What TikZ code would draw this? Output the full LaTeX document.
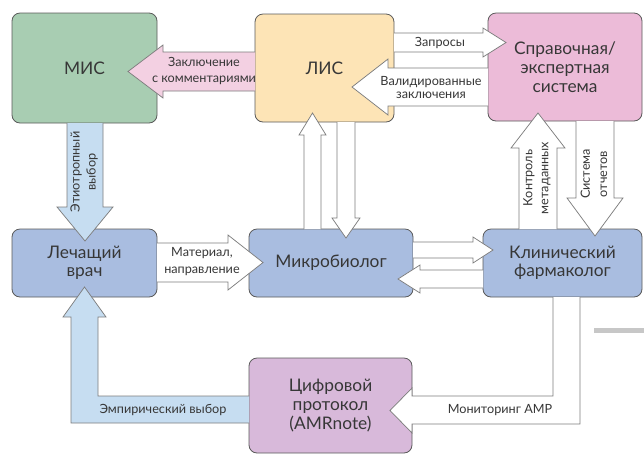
\documentclass[tikz,border=0pt]{standalone}
\usepackage{fontspec}
\setmainfont{Lato}

\definecolor{misgreen}{RGB}{168,205,178}
\definecolor{lisorange}{RGB}{253,228,182}
\definecolor{sprpink}{RGB}{236,187,216}
\definecolor{docblue}{RGB}{169,189,224}
\definecolor{amrlilac}{RGB}{216,185,218}
\definecolor{arrpink}{RGB}{243,208,226}
\definecolor{arrblue}{RGB}{198,221,241}
\definecolor{edgegray}{RGB}{90,90,90}
\definecolor{arrowgray}{RGB}{125,125,125}
\definecolor{txtgray}{RGB}{55,55,55}

\tikzset{every picture/.style={line width=0.75pt}}
\tikzset{
  box/.style={draw=edgegray, line width=0.6pt, rounded corners=6pt, align=center,
    inner sep=0pt, text=txtgray, font=\fontsize{13}{13.5}\selectfont},
  fatarrow/.style={draw=arrowgray, line width=0.55pt, fill=white, line join=miter},
  lbl/.style={inner sep=0.75pt, align=center, text=txtgray, font=\fontsize{9.5}{12}\selectfont}
}

\begin{document}
\begin{tikzpicture}[x=0.75pt,y=0.75pt,yscale=-1,xscale=1]
\useasboundingbox (0,0) rectangle (644,455);

%Boxes
\node [box, fill=misgreen, minimum width=108.75pt, minimum height=82.5pt] (mis) at (84.5,68) {МИС};
\node [box, fill=lisorange, minimum width=104.25pt, minimum height=81pt] (lis) at (324.5,68) {ЛИС};
\node [box, fill=sprpink, minimum width=115.5pt, minimum height=81pt, font=\fontsize{13}{14.25}\selectfont] (spr) at (565,67) {Справочная/\\экспертная\\система};
\node [box, fill=docblue, minimum width=108.75pt, minimum height=51pt] (vrach) at (84.5,263) {Лечащий\\врач};
\node [box, fill=docblue, minimum width=123pt, minimum height=51pt] (micro) at (331,263) {Микробиолог};
\node [box, fill=docblue, minimum width=119.25pt, minimum height=51pt] (farm) at (562.5,263) {Клинический\\фармаколог};
\node [box, fill=amrlilac, minimum width=122.25pt, minimum height=71.25pt, font=\fontsize{13}{14}\selectfont] (amr) at (330.5,405.5) {Цифровой\\протокол\\(AMRnote)};

%Left Arrow: ЛИС -> МИС
\draw [fatarrow, fill=arrpink] (255,52) -- (163,52) -- (163,45) -- (128,71.5) -- (163,98) -- (163,91) -- (255,91) ;
%Down Arrow: МИС -> врач
\draw [fatarrow, fill=arrblue] (67,123) -- (67,207) -- (57,207) -- (85,241) -- (113,207) -- (103,207) -- (103,123) ;
%Right Arrow: врач -> микробиолог
\draw [fatarrow] (157,243) -- (228,243) -- (228,235) -- (263,262.5) -- (228,290) -- (228,282) -- (157,282) ;
%Up Arrow: микробиолог -> ЛИС
\draw [fatarrow] (304,229) -- (304,135) -- (299,135) -- (312.5,113) -- (326,135) -- (321,135) -- (321,229) ;
%Down Arrow: ЛИС -> микробиолог
\draw [fatarrow] (337,122) -- (337,218) -- (332,218) -- (346,238) -- (360,218) -- (355,218) -- (355,122) ;
%Right Arrow: ЛИС -> справочная
\draw [fatarrow] (394,33) -- (483,33) -- (483,28) -- (506,42.5) -- (483,57) -- (483,52) -- (394,52) ;
%Left Arrow: справочная -> ЛИС
\draw [fatarrow] (488,68) -- (388,68) -- (388,59) -- (352,87) -- (388,115) -- (388,106) -- (488,106) ;
%Up Arrow: фармаколог -> справочная
\draw [fatarrow] (519,229) -- (519,148) -- (511,148) -- (538,113) -- (565,148) -- (557,148) -- (557,229) ;
%Down Arrow: справочная -> фармаколог
\draw [fatarrow] (576,121) -- (576,198) -- (567,198) -- (595,236) -- (623,198) -- (614,198) -- (614,121) ;
%Right Arrow: микробиолог -> фармаколог
\draw [fatarrow] (413,242) -- (473,242) -- (473,237) -- (493,250) -- (473,263) -- (473,258) -- (413,258) ;
%Left Arrow: фармаколог -> микробиолог
\draw [fatarrow] (483,270) -- (420,270) -- (420,265) -- (398,279) -- (420,293) -- (420,288) -- (483,288) ;
%Bent Arrow: фармаколог -> протокол
\draw [fatarrow] (553,297) -- (553,396) -- (412,396) -- (412,388) -- (390,410.5) -- (412,433) -- (412,424) -- (580,424) -- (580,297) ;
%Bent Arrow: протокол -> врач
\draw [fatarrow, fill=arrblue] (249,396) -- (98,396) -- (98,317) -- (106,317) -- (84.5,287) -- (63,317) -- (71,317) -- (71,423) -- (249,423) ;

%Straight Lines
\fill [black!22] (594,328) rectangle (644,333) ;

% Text Node
\draw (204,71) node [lbl, font=\fontsize{9.5}{12}\selectfont] (tzakl) {Заключение\\с комментариями};
% Text Node
\draw (440,43) node [lbl] (tzapr) {Запросы};
% Text Node
\draw (431,87.5) node [lbl, font=\fontsize{9.5}{10}\selectfont] (tvalid) {Валидированные\\заключения};
% Text Node
\draw (84,172) node [lbl, rotate=90] (tetio) {Этиотропный\\выбор};
% Text Node
\draw (202,262) node [lbl, font=\fontsize{9.5}{12.75}\selectfont] (tmat) {Материал,\\направление};
% Text Node
\draw (537,178) node [lbl, rotate=90] (tkontr) {Контроль\\метаданных};
% Text Node
\draw (594,174) node [lbl, rotate=90, font=\fontsize{9.5}{13}\selectfont] (tsist) {Система\\отчетов};
% Text Node
\draw (163,410) node [lbl] (tempir) {Эмпирический выбор};
% Text Node
\draw (500,410) node [lbl] (tmonit) {Мониторинг АМР};

\end{tikzpicture}
\end{document}
